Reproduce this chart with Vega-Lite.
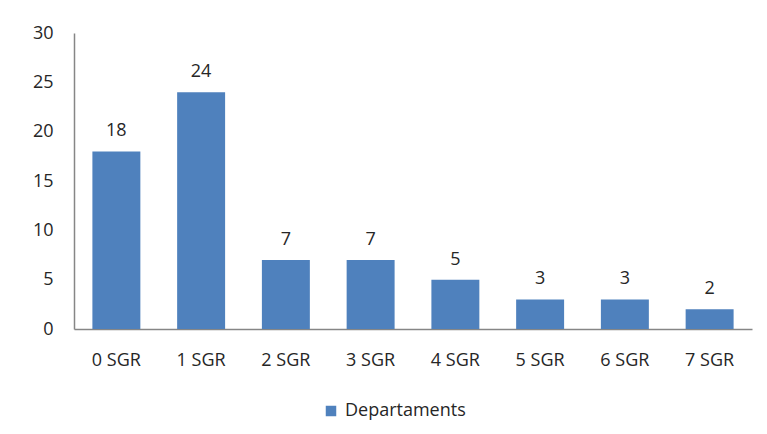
{
  "$schema": "https://vega.github.io/schema/vega-lite/v6.json",
  "width": 678,
  "height": 296,
  "autosize": {"type": "none"},
  "padding": {"left": 74, "top": 33, "right": 15, "bottom": 105},
  "background": "white",
  "config": {
    "view": {"stroke": null},
    "font": "Open Sans",
    "text": {"font": "Open Sans"}
  },
  "data": {
    "values": [
      {"category": "0 SGR", "value": 18, "series": "Departaments"},
      {"category": "1 SGR", "value": 24, "series": "Departaments"},
      {"category": "2 SGR", "value": 7, "series": "Departaments"},
      {"category": "3 SGR", "value": 7, "series": "Departaments"},
      {"category": "4 SGR", "value": 5, "series": "Departaments"},
      {"category": "5 SGR", "value": 3, "series": "Departaments"},
      {"category": "6 SGR", "value": 3, "series": "Departaments"},
      {"category": "7 SGR", "value": 2, "series": "Departaments"}
    ]
  },
  "encoding": {
    "x": {
      "field": "category",
      "type": "nominal",
      "sort": null,
      "scale": {"paddingInner": 0.434, "paddingOuter": 0.217},
      "axis": {
        "title": null,
        "labelAngle": 0,
        "ticks": false,
        "labelPadding": 22,
        "labelFont": "Open Sans",
        "labelFontSize": 18,
        "labelColor": "#262626",
        "domainColor": "#868686",
        "domainWidth": 1.5
      }
    },
    "y": {
      "field": "value",
      "type": "quantitative",
      "scale": {"domain": [0, 30]},
      "axis": {
        "title": null,
        "values": [0, 5, 10, 15, 20, 25, 30],
        "grid": false,
        "ticks": false,
        "labelPadding": 21,
        "labelFont": "Open Sans",
        "labelFontSize": 18,
        "labelColor": "#262626",
        "domainColor": "#868686",
        "domainWidth": 1.5
      }
    }
  },
  "layer": [
    {
      "mark": {"type": "bar"},
      "encoding": {
        "color": {
          "field": "series",
          "type": "nominal",
          "scale": {"range": ["#4F81BD"]},
          "legend": {
            "title": null,
            "orient": "none",
            "legendX": 248,
            "legendY": 369,
            "symbolType": "square",
            "symbolSize": 110,
            "symbolStrokeWidth": 0,
            "labelFont": "Open Sans",
            "labelFontSize": 18,
            "labelColor": "#262626",
            "labelOffset": 5
          }
        }
      }
    },
    {
      "mark": {"type": "text", "baseline": "alphabetic", "dy": -15, "fontSize": 18, "color": "#262626"},
      "encoding": {
        "text": {"field": "value", "type": "quantitative"}
      }
    }
  ]
}
